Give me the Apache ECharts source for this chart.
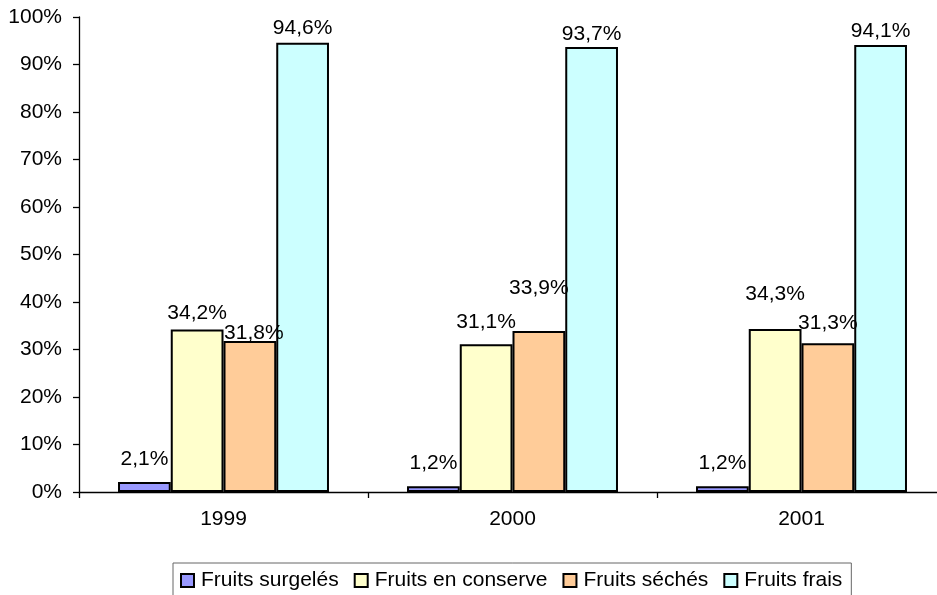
<!DOCTYPE html>
<html>
<head>
<meta charset="utf-8">
<script src="https://cdn.jsdelivr.net/npm/echarts@6/dist/echarts.min.js"></script>
<style>
html,body{margin:0;padding:0;background:#fff;overflow:hidden;}
#chart{width:946px;height:600px;}
</style>
</head>
<body>
<div id="chart"></div>
<script>
const years = ['1999', '2000', '2001'];
const seriesNames = ['Fruits surgelés', 'Fruits en conserve', 'Fruits séchés', 'Fruits frais'];
const surgeles = [2.1, 1.2, 1.2];
const conserve = [34.2, 31.1, 34.3];
const seches = [31.8, 33.9, 31.3];
const frais = [94.6, 93.7, 94.1];
const yTicks = ['0%', '10%', '20%', '30%', '40%', '50%', '60%', '70%', '80%', '90%', '100%'];

const colors = ['#9999FF', '#FFFFCC', '#FFCC99', '#CCFFFF'];
// label lift above bar top (px), per series, per year — mimics original label placement
const labelLift = [
  [12, 13, 13],
  [6, 12, 24],
  [-3, 32, 10],
  [4, 2, 3]
];
const labelShiftX = [
  [0, 0, 0],
  [0, 0, 0],
  [4, 0, 0],
  [0, 0, 0]
];
const FONT = '"Liberation Sans", Arial, Helvetica, sans-serif';
const FS = 21;
const fmt = v => v.toFixed(1).replace('.', ',') + '%';

const allValues = [surgeles, conserve, seches, frais];
const series = allValues.map((vals, si) => ({
  name: seriesNames[si],
  type: 'bar',
  barGap: '0%',
  barCategoryGap: '27%',
  itemStyle: { color: colors[si], borderColor: '#000', borderWidth: 2 },
  data: vals.map((v, i) => ({
    value: v,
    label: { distance: labelLift[si][i], offset: [labelShiftX[si][i], 0] }
  })),
  label: {
    show: true,
    position: 'top',
    color: '#000',
    fontFamily: FONT,
    fontSize: FS,
    formatter: p => fmt(p.value)
  }
}));

const chart = echarts.init(document.getElementById('chart'), null, { renderer: 'canvas' });
chart.setOption({
  animation: false,
  backgroundColor: '#fff',
  textStyle: { fontFamily: FONT },
  grid: { left: 79, right: 0, top: 17, bottom: 108, containLabel: false },
  legend: {
    data: seriesNames,
    left: 173,
    top: 563,
    padding: [7, 9, 12, 7],
    itemGap: 15,
    itemWidth: 13,
    itemHeight: 13,
    icon: 'rect',
    borderColor: '#666',
    borderWidth: 1,
    itemStyle: { borderColor: '#000', borderWidth: 2 },
    textStyle: { color: '#000', fontSize: FS, fontFamily: FONT, padding: [0, 0, 0, 2] }
  },
  xAxis: {
    type: 'category',
    data: years,
    axisLine: { lineStyle: { color: '#000', width: 1.3 } },
    axisTick: { show: true, length: 6, lineStyle: { color: '#000', width: 1.3 } },
    axisLabel: { color: '#000', fontSize: FS, margin: 17, fontFamily: FONT },
    splitLine: { show: false }
  },
  yAxis: {
    type: 'value',
    min: 0,
    max: 100,
    interval: 10,
    axisLine: { show: true, lineStyle: { color: '#000', width: 1.3 } },
    axisTick: { show: true, length: 6, lineStyle: { color: '#000', width: 1.3 } },
    axisLabel: {
      color: '#000', fontSize: FS, margin: 17, fontFamily: FONT,
      formatter: v => yTicks[Math.round(v / 10)]
    },
    splitLine: { show: false }
  },
  series: series
});
</script>
</body>
</html>
